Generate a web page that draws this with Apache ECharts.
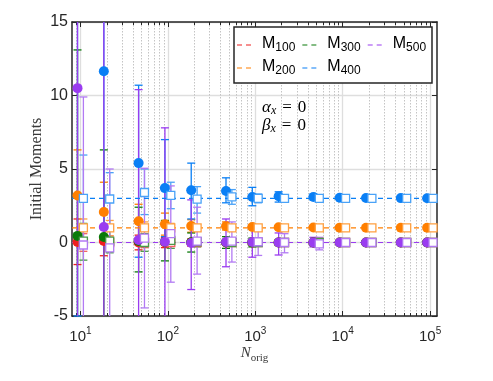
<!DOCTYPE html>
<html>
<head>
<meta charset="utf-8">
<script src="https://cdn.jsdelivr.net/npm/echarts@6/dist/echarts.min.js"></script>
<style>
html, body { margin: 0; padding: 0; background: #fff; }
#chart { width: 493px; height: 381px; }
</style>
</head>
<body>
<div id="chart"></div>
<script>
// sample sizes on the x axis
const sampleSizes = [10, 20, 50, 100, 200, 500, 1000, 2000, 5000, 10000, 20000, 50000, 100000];
const decadeTicks = [10, 100, 1000, 10000, 100000];

const momentNames = ['M100', 'M200', 'M300', 'M400', 'M500'];
const trueMoments = [0, 1, 0, 3, 0];

// filled circles (first estimator): value, lower and upper end of the bar
const m100Circ   = [0.03, 0.1, 0.0, 0.0, 0.0, 0.0, 0.0, 0.0, 0.0, 0.0, 0.0, 0.0, 0.0];
const m100CircLo = [-1.5, -0.9, -0.5, -0.35, -0.25, -0.15, -0.1, -0.07, -0.05, -0.03, -0.02, -0.015, -0.01];
const m100CircHi = [1.6, 1.0, 0.5, 0.35, 0.25, 0.15, 0.1, 0.07, 0.05, 0.03, 0.02, 0.015, 0.01];
const m200Circ   = [3.2, 2.07, 1.45, 1.25, 1.12, 1.1, 1.05, 1.04, 1.02, 1.01, 1.0, 1.0, 1.0];
const m200CircLo = [0.3, 0.2, 0.25, 0.5, 0.7, 0.85, 0.9, 0.93, 0.96, 0.97, 0.98, 0.99, 0.99];
const m200CircHi = [6.3, 4.1, 2.6, 2.0, 1.55, 1.4, 1.2, 1.15, 1.08, 1.05, 1.03, 1.02, 1.01];
const m300Circ   = [0.45, 0.37, 0.1, 0.05, 0.02, 0.02, 0.01, 0.0, 0.0, 0.0, 0.0, 0.0, 0.0];
const m300CircLo = [-6, -6, -2.0, -1.25, -0.65, -0.4, -0.3, -0.2, -0.12, -0.08, -0.05, -0.03, -0.02];
const m300CircHi = [13.1, 6.3, 2.4, 1.5, 0.65, 0.4, 0.3, 0.2, 0.12, 0.08, 0.05, 0.03, 0.02];
const m400Circ   = [18, 11.65, 5.4, 3.7, 3.55, 3.5, 3.1, 3.15, 3.1, 3.05, 3.03, 3.02, 3.01];
const m400CircLo = [-5, 1.0, -1.0, 0.4, 1.6, 2.7, 2.5, 2.75, 2.9, 2.95, 2.97, 2.98, 2.99];
const m400CircHi = [60, 30, 10.7, 7.0, 5.4, 4.4, 3.75, 3.45, 3.3, 3.15, 3.1, 3.06, 3.03];
const m500Circ   = [10.5, 1.05, 0.17, 0.05, -0.03, 0.03, 0.03, 0.0, 0.0, 0.0, 0.0, 0.0, 0.0];
const m500CircLo = [-40, -30, -6, -6, -3.2, -1.65, -1.0, -0.85, -0.3, -0.2, -0.12, -0.08, -0.05];
const m500CircHi = [60, 35, 10.4, 7.8, 2.9, 1.6, 1.0, 0.65, 0.35, 0.2, 0.12, 0.08, 0.05];

// open squares (second estimator)
const m100Sq   = [0.0, 0.0, 0.0, 0.0, 0.0, 0.0, 0.0, 0.0, 0.0, 0.0, 0.0, 0.0, 0.0];
const m100SqLo = [-0.6, -0.45, -0.35, -0.25, -0.2, -0.12, -0.08, -0.06, -0.04, -0.03, -0.02, -0.01, -0.01];
const m100SqHi = [0.6, 0.45, 0.35, 0.25, 0.2, 0.12, 0.08, 0.06, 0.04, 0.03, 0.02, 0.01, 0.01];
const m200Sq   = [1.0, 1.0, 1.0, 1.0, 1.0, 1.0, 1.0, 1.0, 1.0, 1.0, 1.0, 1.0, 1.0];
const m200SqLo = [0.3, 0.45, 0.6, 0.7, 0.8, 0.87, 0.9, 0.93, 0.96, 0.97, 0.98, 0.99, 0.99];
const m200SqHi = [1.6, 1.5, 1.4, 1.3, 1.2, 1.13, 1.1, 1.07, 1.05, 1.04, 1.03, 1.02, 1.01];
const m300Sq   = [0.1, 0.1, 0.0, 0.15, 0.05, 0.0, 0.0, 0.0, 0.0, 0.0, 0.0, 0.0, 0.0];
const m300SqLo = [-1.2, -0.7, -0.6, -0.4, -0.3, -0.2, -0.15, -0.1, -0.07, -0.05, -0.03, -0.02, -0.01];
const m300SqHi = [1.3, 0.8, 0.6, 0.5, 0.3, 0.2, 0.15, 0.1, 0.07, 0.05, 0.03, 0.02, 0.01];
const m400Sq   = [3.0, 2.96, 3.4, 3.2, 2.95, 3.1, 3.0, 3.0, 3.0, 3.0, 3.0, 3.0, 3.0];
const m400SqLo = [0.1, 1.0, 1.9, 2.3, 2.0, 2.6, 2.7, 2.8, 2.88, 2.92, 2.95, 2.97, 2.98];
const m400SqHi = [5.95, 4.75, 5.0, 4.1, 3.8, 3.6, 3.3, 3.2, 3.12, 3.08, 3.05, 3.03, 3.02];
const m500Sq   = [-0.17, -0.37, 0.3, 0.6, 0.1, 0.1, 0.05, 0.0, -0.1, 0.0, 0.0, 0.0, 0.0];
const m500SqLo = [-8, -8, -4.45, -2.7, -2.15, -1.33, -0.88, -0.7, -0.5, -0.25, -0.15, -0.1, -0.05];
const m500SqHi = [9.9, 5.0, 5.05, 3.85, 2.4, 1.4, 0.85, 0.6, 0.35, 0.25, 0.15, 0.1, 0.05];

const circVals = [m100Circ, m200Circ, m300Circ, m400Circ, m500Circ];
const circLows = [m100CircLo, m200CircLo, m300CircLo, m400CircLo, m500CircLo];
const circHighs = [m100CircHi, m200CircHi, m300CircHi, m400CircHi, m500CircHi];
const sqVals = [m100Sq, m200Sq, m300Sq, m400Sq, m500Sq];
const sqLows = [m100SqLo, m200SqLo, m300SqLo, m400SqLo, m500SqLo];
const sqHighs = [m100SqHi, m200SqHi, m300SqHi, m400SqHi, m500SqHi];

const colors = ['#ee2020', '#ff7f00', '#0a7a0a', '#0a7ff5', '#9a3cf0'];
const lightColors = ['#f46060', '#ffa040', '#4a9a4a', '#4aa2f7', '#b27af3'];

const xMin = 8, xMax = 120000;
const circShift = 0.925, sqShift = 1.08;  // small horizontal offset so the two estimators don't overlap

const minorTicks = [9];
for (let d = 10; d < 100000; d *= 10) {
    for (let k = 2; k <= 9; k++) minorTicks.push(k * d);
}

const axisColor = '#262626';
const sansFont = '"Liberation Sans", Arial, sans-serif';
const serifFont = '"Liberation Serif", "DejaVu Serif", serif';

const myChart = echarts.init(document.getElementById('chart'));

function errorBar(color, cap) {
    return function (params, api) {
        const cs = params.coordSys;
        const top = cs.y, bottom = cs.y + cs.height;
        const x = api.value(0);
        const pLo = api.coord([x, api.value(1)]);
        const pHi = api.coord([x, api.value(2)]);
        const px = pLo[0];
        const clampY = y => Math.min(bottom, Math.max(top, y));
        const style = { stroke: color, lineWidth: 1.3 };
        const children = [{
            type: 'line',
            shape: { x1: px, y1: clampY(pLo[1]), x2: px, y2: clampY(pHi[1]) },
            style: style
        }];
        [pLo[1], pHi[1]].forEach(y => {
            if (y >= top && y <= bottom) {
                children.push({ type: 'line', shape: { x1: px - cap / 2, y1: y, x2: px + cap / 2, y2: y }, style: style });
            }
        });
        return { type: 'group', children: children };
    };
}

const series = [];
momentNames.forEach((name, k) => {
    series.push({
        name: name,
        type: 'line',
        symbol: 'none',
        silent: true,
        data: [[xMin, trueMoments[k]], [xMax, trueMoments[k]]],
        lineStyle: { color: colors[k], width: 1.2, type: [5, 4] },
        itemStyle: { color: colors[k] },
        z: 2
    });
    series.push({
        name: name + ' circ err',
        type: 'custom',
        renderItem: errorBar(colors[k], 8),
        data: sampleSizes.map((n, i) => [n * circShift, circLows[k][i], circHighs[k][i]]),
        z: 2
    });
    series.push({
        name: name + ' circ',
        type: 'scatter',
        symbol: 'circle',
        symbolSize: 10,
        clip: true,
        data: sampleSizes.map((n, i) => [n * circShift, circVals[k][i]]),
        itemStyle: { color: colors[k], opacity: 1 },
        z: 2
    });
    series.push({
        name: name + ' sq err',
        type: 'custom',
        renderItem: errorBar(lightColors[k], 8),
        data: sampleSizes.map((n, i) => [n * sqShift, sqLows[k][i], sqHighs[k][i]]),
        z: 2
    });
    series.push({
        name: name + ' sq',
        type: 'scatter',
        symbol: 'rect',
        symbolSize: 8,
        clip: true,
        data: sampleSizes.map((n, i) => [n * sqShift, sqVals[k][i]]),
        itemStyle: { color: '#fff', borderColor: lightColors[k], borderWidth: 1.3, opacity: 1 },
        z: 2
    });
});

const legendCommon = {
    orient: 'horizontal',
    left: 237,
    padding: 0,
    icon: 'path://M0,0H5V1H0Z M9,0H14V1H9Z',
    itemWidth: 14,
    itemHeight: 1.2,
    itemGap: 7,
    selectedMode: false,
    z: 10,
    formatter: name => '{m|M}{s|' + name.slice(1) + '}',
    textStyle: {
        color: '#000',
        rich: {
            m: { fontFamily: sansFont, fontSize: 16, lineHeight: 18, verticalAlign: 'top', padding: [0, 0, 0, 6] },
            s: { fontFamily: sansFont, fontSize: 12, lineHeight: 13, verticalAlign: 'bottom', padding: [13, 0, 0, 0] }
        }
    }
};

const greekRich = {
    g: { fontFamily: serifFont, fontStyle: 'italic', fontSize: 17, fill: '#000', lineHeight: 18, verticalAlign: 'top' },
    s: { fontFamily: serifFont, fontStyle: 'italic', fontSize: 12, fill: '#000', lineHeight: 12, verticalAlign: 'bottom', padding: [9, 0, 0, 0] },
    e: { fontFamily: serifFont, fontSize: 17, fill: '#000', lineHeight: 18, verticalAlign: 'top', padding: [0, 6, 0, 6] },
    t: { fontFamily: serifFont, fontSize: 17, fill: '#000', lineHeight: 18, verticalAlign: 'top' }
};

let option = {
    animation: false,
    backgroundColor: '#fff',
    grid: { left: 72, top: 22, width: 365, height: 294 },
    legend: [
        Object.assign({}, legendCommon, { top: 29, data: ['M100', 'M300', 'M500'] }),
        Object.assign({}, legendCommon, { top: 52, data: ['M200', 'M400'] })
    ],
    xAxis: [
        {
            type: 'log', logBase: 10, min: xMin, max: xMax, position: 'bottom',
            name: '{i|N}{s|orig}', nameLocation: 'middle', nameGap: 30, nameMoveOverlap: false,
            nameTextStyle: {
                rich: {
                    i: { fontFamily: serifFont, fontStyle: 'italic', fontSize: 15, color: '#3a3a3a', lineHeight: 18, verticalAlign: 'top' },
                    s: { fontFamily: serifFont, fontSize: 11, color: '#3a3a3a', lineHeight: 11, verticalAlign: 'bottom', padding: [9, 0, 0, 0] }
                }
            },
            axisLine: { show: true, onZero: false, lineStyle: { color: axisColor, width: 1.5 } },
            axisTick: { show: true, inside: true, length: 5, customValues: decadeTicks, lineStyle: { color: axisColor } },
            axisLabel: {
                customValues: decadeTicks,
                margin: 10,
                formatter: v => '{b|10}{e|' + Math.round(Math.log10(v)) + '}',
                rich: {
                    b: { fontFamily: sansFont, fontSize: 15, color: axisColor, lineHeight: 18, verticalAlign: 'bottom' },
                    e: { fontFamily: sansFont, fontSize: 10, color: axisColor, lineHeight: 10, verticalAlign: 'top' }
                }
            },
            splitLine: { show: true, lineStyle: { color: '#dedede', width: 1.3 } }
        },
        {
            type: 'log', logBase: 10, min: xMin, max: xMax, position: 'bottom',
            axisLine: { show: false, onZero: false },
            axisTick: { show: true, inside: true, length: 3, customValues: minorTicks, lineStyle: { color: axisColor } },
            axisLabel: { show: false },
            splitLine: { show: true, lineStyle: { color: '#c4c4c4', width: 1, type: [1.5, 1.5] } }
        },
        {
            type: 'log', logBase: 10, min: xMin, max: xMax, position: 'top',
            axisLine: { show: true, onZero: false, lineStyle: { color: axisColor, width: 1.5 } },
            axisTick: { show: true, inside: true, length: 5, customValues: decadeTicks, lineStyle: { color: axisColor } },
            axisLabel: { show: false },
            splitLine: { show: false }
        },
        {
            type: 'log', logBase: 10, min: xMin, max: xMax, position: 'top',
            axisLine: { show: false, onZero: false },
            axisTick: { show: true, inside: true, length: 3, customValues: minorTicks, lineStyle: { color: axisColor } },
            axisLabel: { show: false },
            splitLine: { show: false }
        }
    ],
    yAxis: [
        {
            type: 'value', min: -5, max: 15, interval: 5, position: 'left',
            name: 'Initial Moments', nameLocation: 'middle', nameGap: 27, nameMoveOverlap: false,
            nameTextStyle: { fontFamily: serifFont, fontSize: 16, color: '#3a3a3a' },
            axisLine: { show: true, onZero: false, lineStyle: { color: axisColor, width: 1.5 } },
            axisTick: { show: true, inside: true, length: 5, lineStyle: { color: axisColor } },
            axisLabel: { color: axisColor, fontFamily: sansFont, fontSize: 16, margin: 4 },
            splitLine: { show: true, lineStyle: { color: '#dedede', width: 1.3 } }
        },
        {
            type: 'value', min: -5, max: 15, interval: 5, position: 'right',
            axisLine: { show: true, onZero: false, lineStyle: { color: axisColor, width: 1.5 } },
            axisTick: { show: true, inside: true, length: 5, lineStyle: { color: axisColor } },
            axisLabel: { show: false },
            splitLine: { show: false }
        }
    ],
    graphic: [
        {
            type: 'rect', z: 8,
            shape: { x: 234, y: 27, width: 198, height: 56 },
            style: { fill: '#fff', stroke: axisColor, lineWidth: 1.5 }
        },
        {
            type: 'text', left: 262, top: 96, z: 8,
            style: { text: '{g|\u03b1}{s|x}{e|=}{t|0}', rich: greekRich }
        },
        {
            type: 'text', left: 262, top: 114, z: 8,
            style: { text: '{g|\u03b2}{s|x}{e|=}{t|0}', rich: greekRich }
        }
    ],
    series: series
};

myChart.setOption(option);
</script>
</body>
</html>
